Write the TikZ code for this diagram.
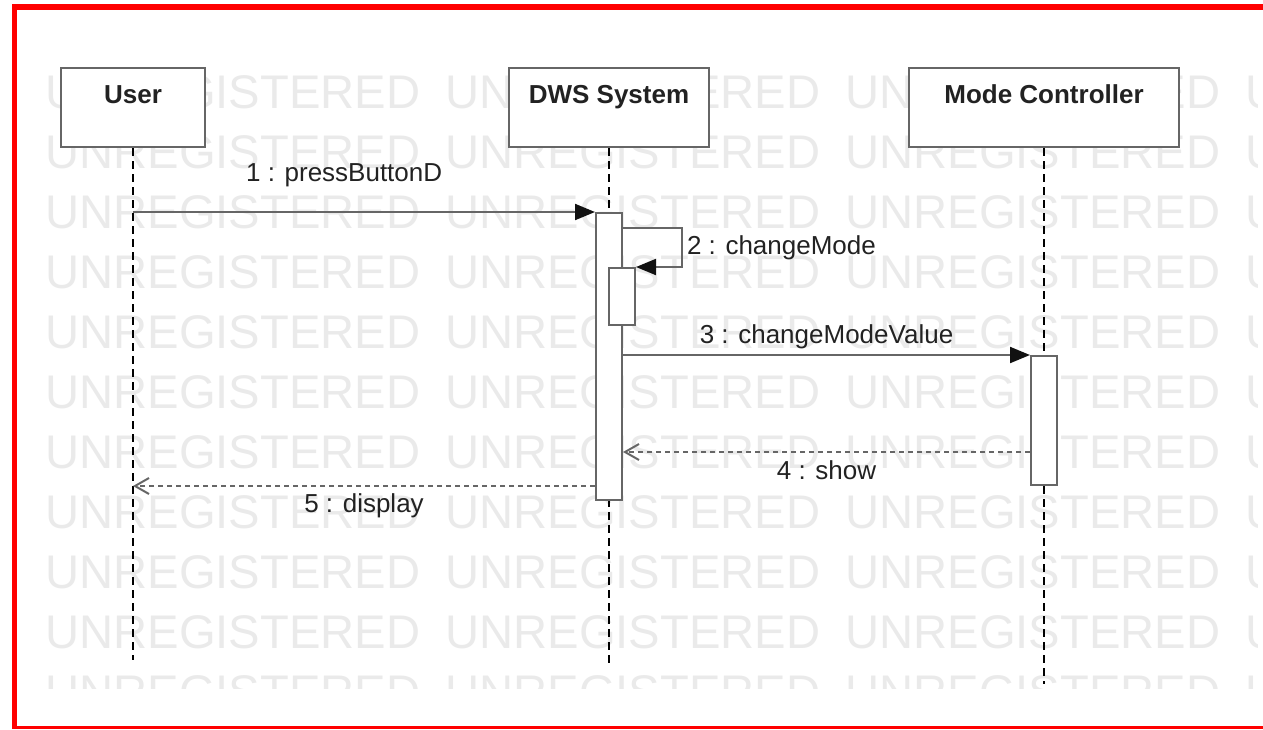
\documentclass[tikz,border=0pt]{standalone}
\usepackage{fontspec}
\setmainfont{Liberation Sans}
\usepackage{xcolor}
\definecolor{umlline}{HTML}{666666}
\definecolor{umltip}{HTML}{111111}
\definecolor{umltext}{HTML}{222222}
\definecolor{wmark}{HTML}{EAEAEA}
\definecolor{framered}{HTML}{FF0000}
\usepackage{tikz}
\usetikzlibrary{arrows.meta,positioning,calc}
\tikzset{
  actor/.style    = {draw=umlline,line width=1.4pt,fill=white,inner sep=0pt,
                     minimum height=39.5pt,text=umltext,
                     font=\fontsize{13}{15}\selectfont\bfseries,
                     text height=5pt,text depth=9.5pt},
  actbar/.style   = {draw=umlline,line width=1pt,fill=white,inner sep=0pt,
                     minimum width=13pt},
  lifeline/.style = {draw=black,line width=0.8pt,dash pattern=on 4pt off 2.5pt},
  syncmsg/.style  = {draw=umlline,line width=1pt,
                     -{Triangle[length=10pt,width=8pt,fill=umltip,color=umltip]}},
  retmsg/.style   = {draw=umlline,line width=1pt,dash pattern=on 2.5pt off 2pt,
                     -{Straight Barb[length=7pt,width=8pt,color=umlline]}},
  msglbl/.style   = {inner sep=0pt,text=umltext,font=\fontsize{13}{15}\selectfont},
  wmtext/.style   = {anchor=west,inner sep=0pt,text=wmark,
                     font=\fontsize{23.6}{26}\selectfont},
  redline/.style  = {draw=framered},
}
\begin{document}
\begin{tikzpicture}[x=0.5pt,y=-0.5pt]
  \useasboundingbox (0,0) rectangle (1263,729);

  % Watermark rows
  \begin{scope}
    \clip (40,63) rectangle (1257,688);
    \foreach \r in {0,...,10}{
      \foreach \c in {0,...,3}{
        \node[wmtext] (wm-\r-\c) at (45+400*\c,92.5+60*\r) {UNREGISTERED};
      }
    }
  \end{scope}

  % Frame
  \draw[redline,line width=3pt] (12,7) -- (1263,7);
  \draw[redline,line width=2.5pt] (14,4) -- (14,729);
  \draw[redline,line width=1.5pt] (12,727.5) -- (1263,727.5);

  % Participants
  \node[actor,minimum width=72pt] (user) at (133,107.5) {User};
  \node[actor,minimum width=100pt] (dws) at (609,107.5) {DWS System};
  \node[actor,minimum width=135pt] (mode) at (1044,107.5) {Mode Controller};

  % Lifelines
  \coordinate (userend) at (133,660);
  \coordinate (dwsend) at (609,668);
  \coordinate (modeend) at (1044,684);
  \draw[lifeline] (user) -- (userend);
  \draw[lifeline] (dws) -- (dwsend);
  \draw[lifeline] (mode) -- (modeend);

  % Activations
  \node[actbar,minimum height=143.5pt] (dwsact) at (609,356.5) {};
  \node[actbar,minimum height=28.5pt] (selfact) at (622,296.5) {};
  \node[actbar,minimum height=64.5pt] (modeact) at (1044,420.5) {};

  % Messages
  \draw[syncmsg] (user |- dwsact.north) --
        node[msglbl,pos=.457,above=12pt]{1 : pressButtonD} (dwsact.north west);
  \draw[syncmsg] ($(dwsact.north east)+(0,16)$) -- ++(59,0)
        |- node[msglbl,pos=.25,right=2pt]{2 : changeMode} (selfact.north east);
  \draw[syncmsg] (dwsact.east |- modeact.north) --
        node[msglbl,above=2.75pt]{3 : changeModeValue} (modeact.north west);
  \coordinate (showsrc) at ($(modeact.north west)+(0,97)$);
  \draw[retmsg] (showsrc) --
        node[msglbl,below=4pt]{4 : show} (dwsact.east |- showsrc);
  \coordinate (dispsrc) at ($(dwsact.south west)+(0,-15)$);
  \draw[retmsg] (dispsrc) --
        node[msglbl,below=3.5pt]{5 : display} (user |- dispsrc);
\end{tikzpicture}
\end{document}
